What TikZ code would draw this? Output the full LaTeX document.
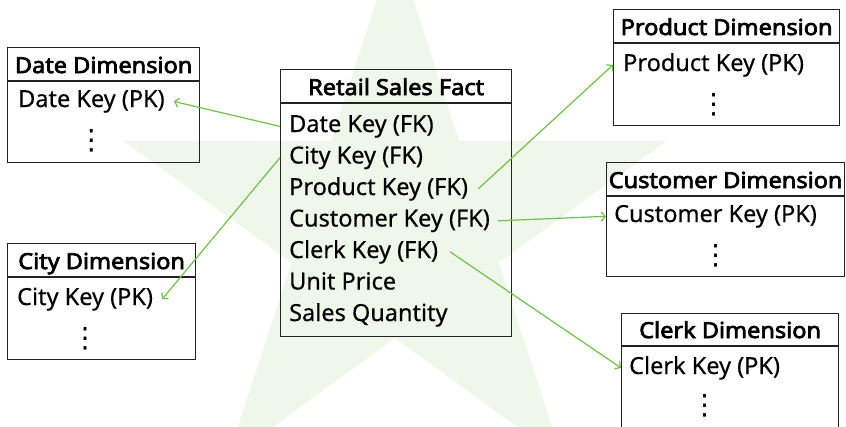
\documentclass[tikz,border=0pt]{standalone}
\usepackage{fontspec}
\setmainfont{Noto Sans}[FakeBold=0.4]
\newfontfamily\hdrfont{Noto Sans}[FakeBold=3.2,FakeStretch=1.07]
\newfontfamily\dvfont{DejaVu Sans}
\usetikzlibrary{arrows.meta}
\definecolor{starbg}{RGB}{239,246,234}
\definecolor{fkline}{RGB}{114,192,74}
\definecolor{boxline}{RGB}{35,35,35}
\begin{document}
\begin{tikzpicture}[x=1pt,y=-1pt,
  tbl/.style={draw=boxline, line width=1.3pt, inner sep=0pt, anchor=north west},
  hdr/.style={font=\hdrfont\fontsize{22}{26}\selectfont, anchor=base, inner sep=0pt},
  row/.style={font=\fontsize{23.5}{27}\selectfont, anchor=base west, inner sep=0pt},
  vdts/.style={font=\dvfont\fontsize{28}{30}\selectfont, inner sep=0pt},
  fk/.style={draw=fkline, line width=1.2pt, -{Straight Barb[length=4pt,width=9pt]}}]
\useasboundingbox (0,0) rectangle (846,426);
\begin{scope}
\clip (0,0) rectangle (846,426);
% background star
\fill[starbg, shift={(395,229)}] (-90:286) -- (-54:109) -- (-18:286) -- (18:109) -- (54:286) -- (90:109) -- (126:286) -- (162:109) -- (198:286) -- (234:109) -- cycle;

% Date Dimension
\node[tbl, minimum width=192pt, minimum height=115pt] (date) at (7,47) {};
\draw[draw=boxline, line width=1.3pt] ([yshift=-34pt]date.north west) -- ([yshift=-34pt]date.north east);
\node[hdr] (dateh) at ([yshift=-26pt]date.north) {Date Dimension};
\node[row] (dkey) at (18,107) {Date Key (PK)};
\node[vdts] (ddots) at ([yshift=-34pt]dkey.base) {⋮};

% City Dimension
\node[tbl, minimum width=188pt, minimum height=116pt] (city) at (7,243) {};
\draw[draw=boxline, line width=1.3pt] ([yshift=-34pt]city.north west) -- ([yshift=-34pt]city.north east);
\node[hdr] (cityh) at ([yshift=-26pt]city.north) {City Dimension};
\node[row] (ckey) at (17,305) {City Key (PK)};
\node[vdts] (cdots) at ([yshift=-34pt]ckey.base) {⋮};

% Retail Sales Fact
\node[tbl, minimum width=231pt, minimum height=267pt] (fact) at (280,69) {};
\draw[draw=boxline, line width=1.3pt] ([yshift=-34pt]fact.north west) -- ([yshift=-34pt]fact.north east);
\node[hdr] (facth) at ([yshift=-26pt]fact.north) {Retail Sales Fact};
\node[row] (fdate) at (289,132) {Date Key (FK)};
\node[row] (fcity) at (289,163.5) {City Key (FK)};
\node[row] (fprod) at (289,195) {Product Key (FK)};
\node[row] (fcust) at (289,226.5) {Customer Key (FK)};
\node[row] (fclerk) at (289,258) {Clerk Key (FK)};
\node[row] (fprice) at (289,289.5) {Unit Price};
\node[row] (fqty) at (289,321) {Sales Quantity};

% Product Dimension
\node[tbl, minimum width=226pt, minimum height=116pt] (prod) at (613,9) {};
\draw[draw=boxline, line width=1.3pt] ([yshift=-34pt]prod.north west) -- ([yshift=-34pt]prod.north east);
\node[hdr] (prodh) at ([yshift=-26pt]prod.north) {Product Dimension};
\node[row] (pkey) at (623,71) {Product Key (PK)};
\node[vdts] (pdots) at ([yshift=-34pt]pkey.base) {⋮};

% Customer Dimension
\node[tbl, minimum width=238pt, minimum height=114pt] (cust) at (606,162) {};
\draw[draw=boxline, line width=1.3pt] ([yshift=-34pt]cust.north west) -- ([yshift=-34pt]cust.north east);
\node[hdr] (custh) at ([yshift=-26pt]cust.north) {Customer Dimension};
\node[row] (custkey) at (614,222) {Customer Key (PK)};
\node[vdts] (custdots) at ([yshift=-34pt]custkey.base) {⋮};

% Clerk Dimension
\node[tbl, minimum width=217pt, minimum height=117pt] (clerk) at (621,313) {};
\draw[draw=boxline, line width=1.3pt] ([yshift=-33pt]clerk.north west) -- ([yshift=-33pt]clerk.north east);
\node[hdr] (clerkh) at ([yshift=-25pt]clerk.north) {Clerk Dimension};
\node[row] (clkey) at (629,374) {Clerk Key (PK)};
\node[vdts] (cldots) at ([yshift=-32pt]clkey.base) {⋮};

% connectors
\draw[fk] (fact.west |- fdate.east) -- ([xshift=9pt]dkey.east);
\draw[fk] (fact.west |- fcity.east) -- ([xshift=9pt]ckey.east);
\draw[fk] ([xshift=10pt]fprod.east) -- (prod.west |- pkey.east);
\draw[fk] ([xshift=8pt]fcust.east) -- (cust.west |- custkey.east);
\draw[fk] ([xshift=12pt]fclerk.east) -- (clerk.west |- clkey.east);
\end{scope}
\end{tikzpicture}
\end{document}
